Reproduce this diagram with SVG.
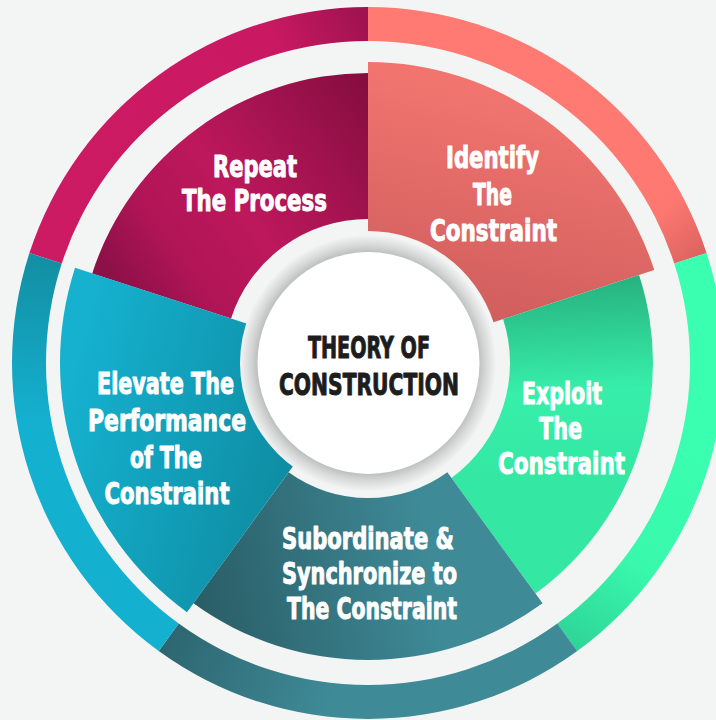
<svg xmlns="http://www.w3.org/2000/svg" width="716" height="720" viewBox="0 0 716 720">
  <defs>
    <style>
      .lbl { font-family: "Liberation Sans Narrow", "DejaVu Sans Condensed", "Liberation Sans", sans-serif; font-weight: 700; font-size: 30px; fill: #ffffff; text-anchor: middle; stroke: #ffffff; stroke-width: 1px; stroke-linejoin: round; }
      .ctr { font-family: "Liberation Sans Narrow", "DejaVu Sans Condensed", "Liberation Sans", sans-serif; font-weight: 700; font-size: 31px; fill: #1d1d1d; text-anchor: middle; stroke: #1d1d1d; stroke-width: 1px; stroke-linejoin: round; }
    </style>
    <!-- outer ring gradients -->
    <linearGradient id="rPink" gradientUnits="userSpaceOnUse" x1="60" y1="200" x2="368" y2="30">
      <stop offset="0" stop-color="#cc1a63"/>
      <stop offset="0.75" stop-color="#ca1962"/>
      <stop offset="1" stop-color="#a11350"/>
    </linearGradient>
    <linearGradient id="rSalmon" gradientUnits="userSpaceOnUse" x1="560" y1="120" x2="690" y2="265">
      <stop offset="0" stop-color="#ff7a73"/>
      <stop offset="0.7" stop-color="#fd7871"/>
      <stop offset="1" stop-color="#dc6360"/>
    </linearGradient>
    <linearGradient id="rGreen" gradientUnits="userSpaceOnUse" x1="700" y1="420" x2="560" y2="640">
      <stop offset="0" stop-color="#3affb0"/>
      <stop offset="0.6" stop-color="#38f8ac"/>
      <stop offset="1" stop-color="#2ed497"/>
    </linearGradient>
    <linearGradient id="rTeal" gradientUnits="userSpaceOnUse" x1="165" y1="640" x2="330" y2="700">
      <stop offset="0" stop-color="#2d6670"/>
      <stop offset="1" stop-color="#3e8a97"/>
    </linearGradient>
    <linearGradient id="rBlue" gradientUnits="userSpaceOnUse" x1="50" y1="265" x2="40" y2="420">
      <stop offset="0" stop-color="#1390a5"/>
      <stop offset="1" stop-color="#14b0cf"/>
    </linearGradient>
    <!-- segment gradients -->
    <linearGradient id="gRepeat" gradientUnits="userSpaceOnUse" x1="368" y1="80" x2="110" y2="270">
      <stop offset="0" stop-color="#850d40"/>
      <stop offset="0.55" stop-color="#bd185c"/>
      <stop offset="0.8" stop-color="#b01556"/>
      <stop offset="1" stop-color="#8e1048"/>
    </linearGradient>
    <linearGradient id="gIdentify" gradientUnits="userSpaceOnUse" x1="470" y1="90" x2="420" y2="310">
      <stop offset="0" stop-color="#f1746f"/>
      <stop offset="1" stop-color="#cf5e5d"/>
    </linearGradient>
    <linearGradient id="gExploit" gradientUnits="userSpaceOnUse" x1="590" y1="270" x2="600" y2="470">
      <stop offset="0" stop-color="#26ad7c"/>
      <stop offset="0.6" stop-color="#37efaa"/>
      <stop offset="1" stop-color="#34e8a4"/>
    </linearGradient>
    <linearGradient id="gSub" gradientUnits="userSpaceOnUse" x1="200" y1="600" x2="430" y2="560">
      <stop offset="0" stop-color="#2a5e67"/>
      <stop offset="1" stop-color="#3e8a97"/>
    </linearGradient>
    <linearGradient id="gElevate" gradientUnits="userSpaceOnUse" x1="70" y1="380" x2="300" y2="440">
      <stop offset="0" stop-color="#15b1cf"/>
      <stop offset="1" stop-color="#0e8da3"/>
    </linearGradient>
    <radialGradient id="gShadow" gradientUnits="userSpaceOnUse" cx="368" cy="363" r="128">
      <stop offset="0.84" stop-color="#b3b4b4"/>
      <stop offset="0.92" stop-color="#d6d8d8"/>
      <stop offset="1" stop-color="#f2f4f4"/>
    </radialGradient>
  </defs>

  <rect x="0" y="0" width="716" height="720" fill="#f3f5f4"/>

  <g id="ring">
    <path d="M368,7 A356,356 0 0 0 29.42,252.99 L61.76,263.50 A322,322 0 0 1 368,41 Z" fill="url(#rPink)"/>
    <path d="M368,7 A356,356 0 0 1 706.58,252.99 L674.24,263.50 A322,322 0 0 0 368,41 Z" fill="url(#rSalmon)"/>
    <path d="M706.58,252.99 A356,356 0 0 1 577.25,651.01 L557.27,623.50 A322,322 0 0 0 674.24,263.50 Z" fill="url(#rGreen)"/>
    <path d="M577.25,651.01 A356,356 0 0 1 158.75,651.01 L178.73,623.50 A322,322 0 0 0 557.27,623.50 Z" fill="url(#rTeal)"/>
    <path d="M29.42,252.99 A356,356 0 0 0 158.75,651.01 L178.73,623.50 A322,322 0 0 1 61.76,263.50 Z" fill="url(#rBlue)"/>
  </g>

  <g id="repeat">
    <path d="M368,73 A290,290 0 0 0 92.19,273.38 L231.05,318.50 A144,144 0 0 1 368,219 Z" fill="url(#gRepeat)"/>
    <text class="lbl" x="255" y="177" textLength="84" lengthAdjust="spacingAndGlyphs">Repeat</text>
    <text class="lbl" x="254.5" y="211" textLength="145" lengthAdjust="spacingAndGlyphs">The Process</text>
  </g>

  <g id="identify">
    <path d="M368,62 A301,301 0 0 1 654.27,269.99 L493.54,322.21 A132,132 0 0 0 368,231 Z" fill="url(#gIdentify)"/>
    <text class="lbl" x="492.5" y="168" textLength="93" lengthAdjust="spacingAndGlyphs">Identify</text>
    <text class="lbl" x="492.5" y="205" textLength="39" lengthAdjust="spacingAndGlyphs">The</text>
    <text class="lbl" x="493.5" y="241" textLength="127" lengthAdjust="spacingAndGlyphs">Constraint</text>
  </g>

  <g id="exploit">
    <path d="M639.05,274.93 A285,285 0 0 1 535.52,593.57 L451.47,477.88 A142,142 0 0 0 503.05,319.12 Z" fill="url(#gExploit)"/>
    <text class="lbl" x="562" y="404" textLength="80" lengthAdjust="spacingAndGlyphs">Exploit</text>
    <text class="lbl" x="560.5" y="439" textLength="43" lengthAdjust="spacingAndGlyphs">The</text>
    <text class="lbl" x="561.5" y="474" textLength="127" lengthAdjust="spacingAndGlyphs">Constraint</text>
  </g>

  <g id="subordinate">
    <path d="M542.57,603.28 A297,297 0 0 1 193.43,603.28 L288.65,472.22 A135,135 0 0 0 447.35,472.22 Z" fill="url(#gSub)"/>
    <text class="lbl" x="368" y="549" textLength="172" lengthAdjust="spacingAndGlyphs">Subordinate &amp;</text>
    <text class="lbl" x="369.5" y="584" textLength="175" lengthAdjust="spacingAndGlyphs">Synchronize to</text>
    <text class="lbl" x="372" y="619" textLength="170" lengthAdjust="spacingAndGlyphs">The Constraint</text>
  </g>

  <g id="elevate">
    <path d="M75.07,267.82 A308,308 0 0 0 186.96,612.18 L295.70,462.51 A123,123 0 0 1 251.02,324.99 Z" fill="url(#gElevate)"/>
    <text class="lbl" x="165.5" y="394" textLength="137" lengthAdjust="spacingAndGlyphs">Elevate The</text>
    <text class="lbl" x="167" y="431" textLength="158" lengthAdjust="spacingAndGlyphs">Performance</text>
    <text class="lbl" x="166" y="468" textLength="72" lengthAdjust="spacingAndGlyphs">of The</text>
    <text class="lbl" x="167" y="504" textLength="125" lengthAdjust="spacingAndGlyphs">Constraint</text>
  </g>

  <g id="center">
    <circle cx="368" cy="363" r="128" fill="url(#gShadow)"/>
    <circle cx="368.5" cy="363" r="111" fill="#ffffff"/>
    <text class="ctr" x="369" y="358" textLength="122" lengthAdjust="spacingAndGlyphs">THEORY OF</text>
    <text class="ctr" x="369" y="395" textLength="180" lengthAdjust="spacingAndGlyphs">CONSTRUCTION</text>
  </g>

  <g id="connectors"/>
</svg>
